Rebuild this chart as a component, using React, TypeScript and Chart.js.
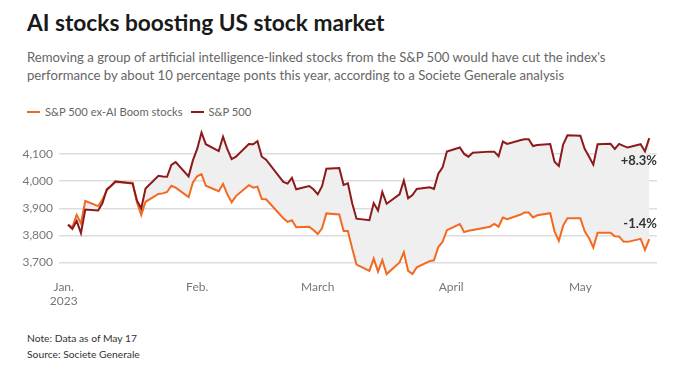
import React, { useEffect, useRef } from 'react';
import { Chart, registerables } from 'chart.js';

Chart.register(...registerables);

// Trading days (MM-DD, 2023); first point carries the 2022 year-end close
const dates = [
  '01-02', '01-03', '01-04', '01-05', '01-06', '01-09', '01-10', '01-11', '01-12', '01-13',
  '01-17', '01-18', '01-19', '01-20', '01-23', '01-24', '01-25', '01-26', '01-27', '01-30', '01-31',
  '02-01', '02-02', '02-03', '02-06', '02-07', '02-08', '02-09', '02-10', '02-13', '02-14', '02-15',
  '02-16', '02-17', '02-21', '02-22', '02-23', '02-24', '02-27', '02-28',
  '03-01', '03-02', '03-03', '03-06', '03-07', '03-08', '03-09', '03-10', '03-13', '03-14', '03-15',
  '03-16', '03-17', '03-20', '03-21', '03-22', '03-23', '03-24', '03-27', '03-28', '03-29', '03-30', '03-31',
  '04-03', '04-04', '04-05', '04-06', '04-10', '04-11', '04-12', '04-13', '04-14', '04-17', '04-18',
  '04-19', '04-20', '04-21', '04-24', '04-25', '04-26', '04-27', '04-28',
  '05-01', '05-02', '05-03', '05-04', '05-05', '05-08', '05-09', '05-10', '05-11', '05-12', '05-15', '05-16', '05-17',
];

const sp500 = [
  3839.5, 3824.1, 3853.0, 3808.1, 3895.1, 3892.1, 3919.3, 3969.6, 3983.2, 3999.1,
  3991.0, 3928.9, 3898.9, 3972.6, 4019.8, 4017.0, 4016.2, 4060.4, 4070.6, 4017.8, 4076.6,
  4119.2, 4179.8, 4136.5, 4111.1, 4164.0, 4117.9, 4081.5, 4090.5, 4137.3, 4136.1, 4147.6,
  4090.4, 4079.1, 3997.3, 3991.1, 4012.3, 3970.0, 3982.2, 3970.2,
  3951.4, 3981.4, 4045.6, 4048.4, 3986.4, 3992.0, 3918.3, 3861.6, 3855.8, 3919.3, 3891.9,
  3960.3, 3916.6, 3951.6, 4002.9, 3937.0, 3948.7, 3971.0, 3977.5, 3971.3, 4027.8, 4050.8, 4109.3,
  4124.5, 4100.6, 4090.4, 4105.0, 4109.1, 4108.9, 4092.0, 4146.2, 4137.6, 4151.3, 4154.9,
  4154.5, 4129.8, 4133.5, 4137.0, 4071.6, 4056.0, 4135.4, 4169.5,
  4167.9, 4119.6, 4090.8, 4061.2, 4136.3, 4138.1, 4119.2, 4137.6, 4130.6, 4124.1, 4136.3, 4109.9, 4158.8,
];

const exAI = [
  3839.5, 3830, 3876, 3844, 3927, 3908, 3932, 3966, 3982, 3997,
  3994, 3922, 3875, 3924, 3953, 3955, 3960, 3983, 3976, 3941, 3995,
  4018, 4026, 3983, 3963, 3990, 3952, 3922, 3945, 3985, 3976, 3980,
  3934, 3933, 3863, 3850, 3856, 3830, 3832, 3820,
  3805, 3826, 3881, 3877, 3816, 3816, 3752, 3692, 3669, 3714, 3666,
  3709, 3657, 3700, 3738, 3669, 3657, 3682, 3705, 3708, 3757, 3776, 3819,
  3842, 3812, 3817, 3820, 3832, 3842, 3832, 3866, 3860, 3876, 3884,
  3884, 3866, 3874, 3882, 3815, 3780, 3836, 3863,
  3863, 3815, 3790, 3755, 3810, 3810, 3797, 3796, 3777, 3776, 3787, 3746, 3786,
];

const monthStarts = ['01-01', '02-01', '03-01', '04-01', '05-01'];
const monthLabels = [['Jan.', '2023'], ['Feb.'], ['March'], ['April'], ['May']];
const yTicks = [3700, 3800, 3900, 4000, 4100];
const endLabels = ['+8.3%', '-1.4%'];

const RED = '#8c1a1a';
const ORANGE = '#f26a21';
const FONT = 'Lato, "Open Sans", sans-serif';

function dayOf(md: string): number {
  const [m, d] = md.split('-').map(Number);
  return (Date.UTC(2023, m - 1, d) - Date.UTC(2023, 0, 1)) / 86400000;
}

const endLabelPlugin = {
  id: 'endLabels',
  afterDatasetsDraw(chart: any) {
    const { ctx, chartArea, scales } = chart;
    const y = scales.y;
    ctx.save();
    ctx.font = `bold 13px ${FONT}`;
    ctx.fillStyle = '#333';
    ctx.textAlign = 'right';
    ctx.textBaseline = 'middle';
    const lastRed = sp500[sp500.length - 1];
    const lastOrange = exAI[exAI.length - 1];
    ctx.fillText(endLabels[0], chartArea.right, y.getPixelForValue(lastRed) + 23);
    ctx.fillText(endLabels[1], chartArea.right, y.getPixelForValue(lastOrange) - 15);
    ctx.restore();
  },
};

export default function App() {
  const ref = useRef<HTMLCanvasElement>(null);

  useEffect(() => {
    if (!ref.current) return;
    Chart.defaults.font.family = FONT;
    const days = dates.map(dayOf);
    const chart = new Chart(ref.current, {
      type: 'line',
      data: {
        datasets: [
          {
            label: 'S&P 500',
            data: days.map((x, i) => ({ x, y: sp500[i] })),
            borderColor: RED,
            borderWidth: 2,
            pointRadius: 0,
            tension: 0,
            fill: { target: 1 },
            backgroundColor: '#efefef',
          },
          {
            label: 'S&P 500 ex-AI Boom stocks',
            data: days.map((x, i) => ({ x, y: exAI[i] })),
            borderColor: ORANGE,
            borderWidth: 2,
            pointRadius: 0,
            tension: 0,
            fill: false,
          },
        ],
      },
      options: {
        animation: false,
        responsive: false,
        maintainAspectRatio: false,
        layout: { padding: { top: 17, right: 23, bottom: 0, left: 0 } },
        plugins: {
          legend: { display: false },
          tooltip: { enabled: false },
          filler: { drawTime: 'beforeDatasetsDraw' },
        },
        scales: {
          x: {
            type: 'linear',
            min: -1.1,
            max: 137.8,
            grid: { display: false },
            border: { display: false },
            afterBuildTicks: (s: any) => {
              s.ticks = monthStarts.map((m) => ({ value: dayOf(m) }));
            },
            afterFit: (s: any) => {
              s.height = 44;
            },
            ticks: {
              autoSkip: false,
              maxRotation: 0,
              padding: -4,
              color: '#777',
              font: { size: 12 },
              callback: (v: any) => {
                const idx = monthStarts.findIndex((m) => dayOf(m) === v);
                return idx >= 0 ? monthLabels[idx] : '';
              },
            },
          },
          y: {
            min: 3650,
            max: 4200,
            afterBuildTicks: (s: any) => {
              s.ticks = yTicks.map((v) => ({ value: v }));
            },
            afterFit: (s: any) => {
              s.width = 59;
            },
            grid: { color: '#dddddd', lineWidth: 1.5, drawTicks: false },
            border: { display: false },
            ticks: {
              padding: 6,
              color: '#777',
              font: { size: 12 },
              callback: (v: any) => Number(v).toLocaleString('en-US'),
            },
          },
        },
      },
      plugins: [endLabelPlugin],
    } as any);
    return () => chart.destroy();
  }, []);

  const abs = (o: any) => ({ position: 'absolute' as const, margin: 0, whiteSpace: 'nowrap' as const, ...o });

  return (
    <div style={{ position: 'fixed', left: 0, top: 0, width: 680, height: 371, background: '#fff', overflow: 'hidden', fontFamily: FONT }}>
      <div style={abs({ left: 27, top: 9, fontSize: 22.7, lineHeight: '28px', fontWeight: 700, color: '#1a1a1a' })}>
        AI stocks boosting US stock market
      </div>
      <div style={abs({ left: 27, top: 48, fontSize: 13.15, lineHeight: '18px', color: '#666', whiteSpace: 'normal', width: 650 })}>
        Removing a group of artificial intelligence-linked stocks from the S&amp;P 500 would have cut the index's
        <br />
        performance by about 10 percentage ponts this year, according to a Societe Generale analysis
      </div>
      <div style={abs({ left: 27, top: 104, fontSize: 11.2, lineHeight: '16px', color: '#666', display: 'flex', alignItems: 'center' })}>
        <span style={{ display: 'inline-block', width: 13, height: 2, background: ORANGE, marginRight: 5 }} />
        <span>S&amp;P 500 ex-AI Boom stocks</span>
        <span style={{ display: 'inline-block', width: 13, height: 2, background: RED, marginLeft: 8, marginRight: 5 }} />
        <span>S&amp;P 500</span>
      </div>
      <canvas ref={ref} width={680} height={210} style={{ position: 'absolute', left: 0, top: 110, width: 680, height: 210 }} />
      <div style={abs({ left: 27, top: 330, fontSize: 10.3, lineHeight: '16px', color: '#333' })}>
        Note: Data as of May 17
        <br />
        Source: Societe Generale
      </div>
    </div>
  );
}
